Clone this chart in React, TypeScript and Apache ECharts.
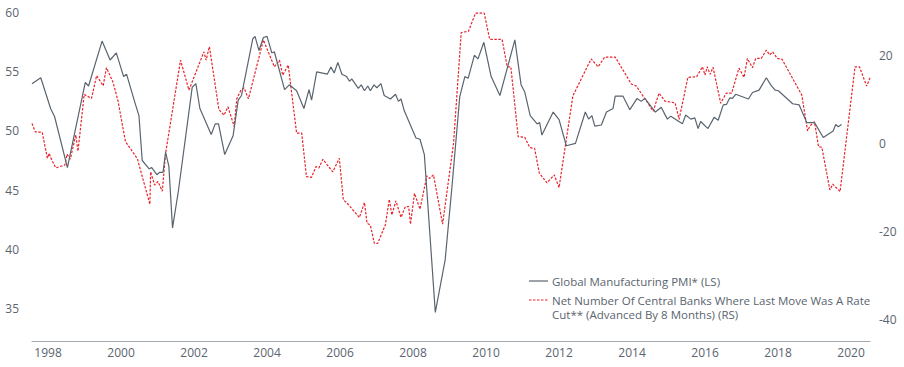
import React, { useEffect, useRef } from "react";
import * as echarts from "echarts";

const pmiDates = [
  1997.56, 1997.8, 1998.07, 1998.18, 1998.53, 1999.02, 1999.11, 1999.48, 1999.7, 1999.87,
  2000.07, 2000.15, 2000.38, 2000.49, 2000.58, 2000.77, 2000.84, 2000.98, 2001.06, 2001.15,
  2001.22, 2001.31, 2001.41, 2001.57, 2001.95, 2002.05, 2002.16, 2002.47, 2002.58, 2002.67,
  2002.84, 2003.07, 2003.21, 2003.3, 2003.61, 2003.67, 2003.78, 2003.9, 2004.0, 2004.13,
  2004.2, 2004.48, 2004.61, 2004.81, 2005.01, 2005.15, 2005.22, 2005.36, 2005.65, 2005.75,
  2005.84, 2005.94, 2006.05, 2006.18, 2006.26, 2006.32, 2006.5, 2006.58, 2006.67, 2006.76,
  2006.83, 2006.93, 2007.01, 2007.12, 2007.21, 2007.38, 2007.52, 2007.6, 2007.67, 2007.76,
  2008.08, 2008.19, 2008.31, 2008.61, 2008.88, 2009.07, 2009.28, 2009.42, 2009.51, 2009.68,
  2009.78, 2009.94, 2010.14, 2010.38, 2010.79, 2010.96, 2011.06, 2011.21, 2011.4, 2011.47,
  2011.53, 2011.84, 2012.0, 2012.2, 2012.45, 2012.72, 2012.81, 2012.9, 2012.98, 2013.16,
  2013.3, 2013.48, 2013.54, 2013.75, 2013.94, 2014.14, 2014.25, 2014.35, 2014.64, 2014.8,
  2014.9, 2014.97, 2015.06, 2015.38, 2015.47, 2015.61, 2015.72, 2015.81, 2015.88, 2016.08,
  2016.25, 2016.36, 2016.5, 2016.59, 2016.68, 2016.75, 2016.84, 2017.19, 2017.3, 2017.48,
  2017.68, 2017.8, 2017.92, 2018.01, 2018.4, 2018.58, 2018.79, 2019.0, 2019.24, 2019.51,
  2019.58, 2019.65, 2019.74,
];
const pmiValues = [
  54.0, 54.5, 51.9, 51.2, 46.9, 54.1, 53.8, 57.6, 56.0, 56.6,
  54.6, 54.8, 52.4, 51.3, 47.5, 46.8, 46.9, 46.3, 46.5, 46.5,
  48.2, 47.0, 41.8, 44.9, 53.7, 54.0, 51.9, 49.7, 50.6, 50.6,
  48.0, 49.6, 52.6, 53.0, 57.8, 58.0, 56.8, 57.9, 58.0, 56.6,
  56.7, 53.5, 53.9, 53.4, 51.9, 53.5, 52.6, 55.0, 54.8, 55.4,
  54.9, 55.8, 54.8, 54.6, 54.2, 54.4, 53.6, 53.9, 53.4, 53.8,
  53.4, 53.9, 53.65, 54.0, 53.0, 52.7, 53.1, 52.5, 52.7, 51.7,
  49.4, 49.3, 48.0, 34.65, 39.1, 45.4, 52.9, 54.6, 54.45, 56.4,
  56.1, 57.5, 54.6, 53.0, 57.7, 53.9, 53.3, 51.3, 50.6, 50.7,
  49.65, 51.6, 50.95, 48.75, 48.95, 51.6, 51.0, 51.3, 50.4, 50.5,
  51.6, 51.9, 52.95, 52.95, 51.8, 52.75, 52.5, 52.75, 51.6, 52.0,
  51.4, 51.0, 51.25, 50.6, 51.35, 51.0, 51.1, 50.2, 50.8, 50.2,
  51.15, 50.9, 52.2, 52.25, 52.8, 52.75, 53.1, 52.7, 53.25, 53.45,
  54.5, 53.9, 53.45, 53.4, 52.3, 52.2, 50.7, 50.7, 49.45, 50.0,
  50.55, 50.35, 50.55,
];

const cutDates = [
  1997.56, 1997.65, 1997.84, 1997.98, 1998.03, 1998.09, 1998.21, 1998.46, 1998.52, 1998.61,
  1998.76, 1998.82, 1998.99, 1999.19, 1999.33, 1999.51, 1999.6, 1999.78, 1999.92, 2000.12,
  2000.38, 2000.45, 2000.79, 2000.81, 2000.92, 2001.01, 2001.13, 2001.22, 2001.63, 2001.86,
  2002.27, 2002.33, 2002.42, 2002.68, 2002.82, 2002.93, 2003.1, 2003.17, 2003.28, 2003.37,
  2003.49, 2003.9, 2004.2, 2004.34, 2004.43, 2004.58, 2004.81, 2004.95, 2005.08, 2005.22,
  2005.34, 2005.42, 2005.53, 2005.8, 2005.98, 2006.09, 2006.18, 2006.53, 2006.67, 2006.74,
  2006.83, 2006.94, 2007.03, 2007.24, 2007.35, 2007.42, 2007.53, 2007.67, 2007.79, 2007.88,
  2007.93, 2008.04, 2008.19, 2008.38, 2008.45, 2008.56, 2008.81, 2009.11, 2009.32, 2009.52,
  2009.71, 2009.95, 2010.1, 2010.44, 2010.58, 2010.68, 2010.88, 2011.06, 2011.2, 2011.33,
  2011.46, 2011.67, 2011.87, 2012.0, 2012.38, 2012.88, 2013.07, 2013.25, 2013.54, 2013.98,
  2014.12, 2014.58, 2014.74, 2014.9, 2015.18, 2015.29, 2015.53, 2015.77, 2015.93, 2016.0,
  2016.06, 2016.14, 2016.22, 2016.43, 2016.58, 2016.73, 2016.93, 2017.07, 2017.16, 2017.3,
  2017.39, 2017.54, 2017.68, 2017.77, 2017.85, 2017.98, 2018.11, 2018.65, 2018.81, 2018.88,
  2019.0, 2019.11, 2019.2, 2019.42, 2019.5, 2019.7, 2020.11, 2020.23, 2020.43, 2020.52,
];
const cutValues = [
  4.6, 2.7, 2.6, -3.3, -2.2, -3.5, -5.5, -4.85, -2.4, -3.5,
  2.0, -1.7, 11.2, 10.3, 15.5, 13.2, 17.3, 14.0, 9.6, 0.5,
  -2.6, -3.5, -13.8, -6.4, -9.4, -8.6, -10.8, -2.2, 19.0, 12.2,
  20.9, 19.0, 22.1, 7.8, 6.5, 8.4, 3.9, 10.2, 12.1, 12.7,
  10.2, 23.6, 17.5, 19.0, 15.6, 17.9, 2.4, 2.4, -7.5, -7.65,
  -5.2, -5.5, -3.55, -6.4, -3.3, -12.8, -13.4, -16.8, -13.4, -18.1,
  -18.5, -22.7, -22.7, -18.5, -12.65, -16.2, -13.0, -16.75, -14.3, -14.3,
  -18.3, -11.3, -14.9, -7.3, -7.9, -7.1, -18.3, 0.1, 25.3, 25.6,
  29.7, 29.7, 23.75, 23.75, 17.5, 17.5, 1.6, 1.45, -0.9, -1.05,
  -6.7, -8.9, -7.1, -10.0, 10.9, 19.3, 17.5, 19.7, 19.7, 13.6,
  13.1, 7.4, 11.5, 9.7, 9.3, 5.55, 15.1, 15.25, 17.5, 15.6,
  17.5, 15.8, 17.4, 9.2, 11.5, 11.5, 17.2, 15.1, 19.4, 17.3,
  19.4, 19.4, 21.3, 20.2, 20.9, 19.4, 19.2, 11.1, 2.9, 4.1,
  5.0, -0.7, -0.8, -10.5, -9.2, -10.9, 17.5, 17.5, 13.1, 15.0,
];

const pmiName = "Global Manufacturing PMI* (LS)";
const cutName = "Net Number Of Central Banks Where Last Move Was A Rate Cut** (Advanced By 8 Months) (RS)";
const cutNameLines = ["Net Number Of Central Banks Where Last Move Was A Rate", "Cut** (Advanced By 8 Months) (RS)"];

const GRAY = "#5a646e";
const RED = "#e8232b";
const FONT = "'Open Sans', 'Noto Sans', sans-serif";

export default function App() {
  const ref = useRef<HTMLDivElement>(null);
  useEffect(() => {
    if (!ref.current) return;
    const chart = echarts.init(ref.current, null, { renderer: "svg" });
    const pmiData = pmiDates.map((d, i) => [d, pmiValues[i]]);
    const cutData = cutDates.map((d, i) => [d, cutValues[i]]);
    chart.setOption({
      animation: false,
      backgroundColor: "#ffffff",
      textStyle: { fontFamily: FONT },
      grid: { left: 32, right: 34, top: 8, bottom: 26, containLabel: false },
      xAxis: {
        type: "value",
        min: 1997.56,
        max: 2020.52,
        splitNumber: 12,
        minInterval: 2,
        maxInterval: 2,
        axisLine: { show: true, onZero: false, lineStyle: { color: "#a3abb3", width: 1 } },
        axisTick: { show: false },
        splitLine: { show: false },
        axisLabel: {
          color: GRAY,
          fontSize: 12,
          fontFamily: FONT,
          margin: 5,
          showMinLabel: false,
          showMaxLabel: false,
          formatter: (v: number) => String(Math.round(v)),
        },
      },
      yAxis: [
        {
          type: "value",
          min: 32.23,
          max: 60.4,
          splitNumber: 6,
          minInterval: 5,
          maxInterval: 5,
          axisLine: { show: false },
          axisTick: { show: false },
          splitLine: { show: false },
          axisLabel: {
            color: GRAY,
            fontSize: 12,
            fontFamily: FONT,
            margin: 13,
            showMinLabel: false,
            showMaxLabel: false,
            formatter: (v: number) => String(Math.round(v)),
          },
        },
        {
          type: "value",
          min: -44.89,
          max: 30.88,
          splitNumber: 4,
          minInterval: 20,
          maxInterval: 20,
          axisLine: { show: false },
          axisTick: { show: false },
          splitLine: { show: false },
          axisLabel: {
            color: GRAY,
            fontSize: 12,
            fontFamily: FONT,
            margin: 9,
            showMinLabel: false,
            showMaxLabel: false,
            formatter: (v: number) => String(Math.round(v)),
          },
        },
      ],
      series: [
        {
          name: cutName,
          type: "line",
          yAxisIndex: 1,
          data: cutData,
          symbol: "none",
          lineStyle: { color: RED, width: 1.2, type: [2.5, 1.5] },
          z: 2,
        },
        {
          name: pmiName,
          type: "line",
          yAxisIndex: 0,
          data: pmiData,
          symbol: "none",
          lineStyle: { color: GRAY, width: 1.2 },
          z: 3,
        },
      ],
      graphic: [
        {
          type: "line",
          shape: { x1: 529, y1: 281, x2: 548, y2: 281 },
          style: { stroke: GRAY, lineWidth: 1.2 },
        },
        {
          type: "text",
          x: 552,
          y: 281,
          style: { text: pmiName, fill: GRAY, font: `11.5px ${FONT}`, verticalAlign: "middle" },
        },
        {
          type: "line",
          shape: { x1: 529, y1: 300, x2: 548, y2: 300 },
          style: { stroke: RED, lineWidth: 1.2, lineDash: [2.5, 1.5] },
        },
        {
          type: "text",
          x: 552,
          y: 293,
          style: {
            text: cutNameLines.join("\n"),
            fill: GRAY,
            font: `11.5px ${FONT}`,
            lineHeight: 14,
            verticalAlign: "top",
          },
        },
      ],
    });
    return () => chart.dispose();
  }, []);
  return (
    <div
      ref={ref}
      style={{ position: "fixed", left: 0, top: 0, width: 904, height: 367, background: "#fff" }}
    />
  );
}
